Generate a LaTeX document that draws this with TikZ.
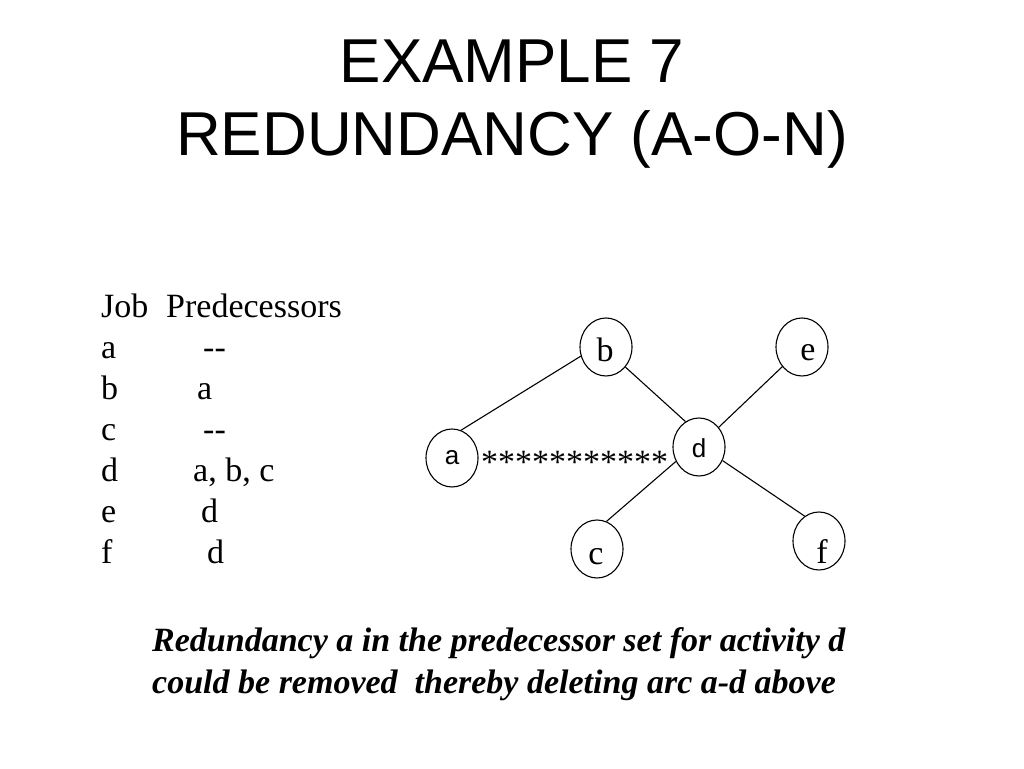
\documentclass[tikz,border=0pt]{standalone}
\usepackage{fontspec}
\setmainfont{Liberation Serif}
\newfontfamily\arialf{Liberation Sans}
\usetikzlibrary{shapes.geometric}
\begin{document}
\begin{tikzpicture}[x=1pt,y=1pt,
  circ/.style={draw, ellipse, line width=1.1pt, minimum width=52pt, minimum height=58pt, inner sep=0pt},
  conn/.style={line width=1.1pt},
  titletext/.style={anchor=base, inner sep=0pt, font=\arialf\fontsize{62}{74}\selectfont},
  tbl/.style={anchor=base west, inner sep=0pt, font=\fontsize{34}{41}\selectfont},
  note/.style={anchor=base west, inner sep=0pt, font=\fontsize{34}{42}\selectfont\bfseries\itshape},
  serlab/.style={font=\fontsize{34}{40}\selectfont, inner sep=0pt},
  sanlab/.style={font=\arialf\fontsize{26}{30}\selectfont, inner sep=0pt}
]
\useasboundingbox (0,0) rectangle (1024,768);
\fill[white] (0,0) rectangle (1024,768);

% title
\node[titletext] (t1) at (512,685) {EXAMPLE 7};
\node[titletext] (t2) at (512,612) {REDUNDANCY (A-O-N)};

% table
\node[tbl] (hjob) at (101,450) {Job};
\node[tbl] (hpred) at (166,450) {Predecessors};
\node[tbl] (ja) at (101,409) {a};
\node[tbl] (pa) at (203,409) {-{}-};
\node[tbl] (jb) at (101,368) {b};
\node[tbl] (pb) at (197,368) {a};
\node[tbl] (jc) at (101,327) {c};
\node[tbl] (pc) at (203,327) {-{}-};
\node[tbl] (jd) at (101,286) {d};
\node[tbl] (pd) at (193,286) {a, b, c};
\node[tbl] (je) at (101,245) {e};
\node[tbl] (pe) at (201,245) {d};
\node[tbl] (jf) at (101,204) {f};
\node[tbl] (pf) at (207,204) {d};

% graph nodes
\node[circ, label={[sanlab]center:a}] (a) at (452,310) {};
\node[circ, label={[serlab,xshift=-1pt,yshift=-3pt]center:b}] (b) at (606,421) {};
\node[circ, label={[sanlab,yshift=-1pt]center:d}] (d) at (699,321) {};
\node[circ, label={[serlab,xshift=6pt,yshift=-6pt]center:e}] (e) at (802,421) {};
\node[circ, label={[serlab,xshift=-1pt,yshift=-8pt]center:c}] (c) at (597,219) {};
\node[circ, label={[serlab,xshift=3pt,yshift=-11pt]center:f}] (f) at (819,227) {};

% connectors
\draw[conn] (a.72) -- (b.200);
\draw[conn] (b.314) -- (d.118);
\draw[conn] (e.225) -- (d.45);
\draw[conn] (d.212) -- (c.71);
\draw[conn] (d.330) -- (f.120);

% removed arc a-d shown as stars
\node[tbl] (stars) at (481,294) {***********};

% note
\node[note] (n1) at (152,117) {Redundancy a in the predecessor set for activity d};
\node[note] (n2) at (152,75) {could be removed\ \ thereby deleting arc a-d above};
\end{tikzpicture}
\end{document}
